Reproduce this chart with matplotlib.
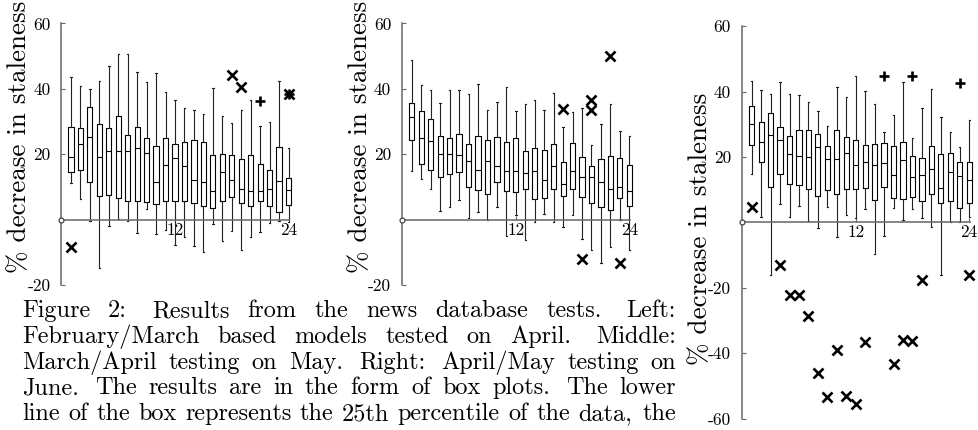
import matplotlib
matplotlib.use("Agg")
import matplotlib.pyplot as plt

plt.rcParams["font.family"] = ["cmr10", "DejaVu Serif"]
plt.rcParams["axes.unicode_minus"] = False

W, H = 979, 430

# Left: February/March based models tested on April
left_hi = [43.6, 40.8, 39.9, 42.4, 46.9, 50.7, 50.7, 45.2, 42.1, 44.8, 39.0, 36.5,
           34.1, 33.4, 32.3, 40.2, 31.6, 29.6, 33.5, 36.5, 28.7, 29.8, 42.3, 21.9]
left_q3 = [28.2, 28.0, 34.4, 29.2, 28.0, 31.6, 25.8, 28.4, 24.9, 22.4, 24.9, 23.1,
           23.9, 24.3, 23.7, 19.7, 20.1, 19.7, 18.5, 19.9, 17.1, 15.1, 22.3, 12.7]
left_med = [19.2, 23.1, 25.2, 19.3, 21.0, 21.0, 21.0, 21.8, 20.3, 11.6, 16.7, 18.8,
            16.5, 12.0, 11.6, 8.9, 14.5, 12.0, 9.5, 8.9, 8.9, 9.4, 11.8, 9.1]
left_q1 = [14.6, 15.1, 11.6, 7.2, 7.6, 6.5, 5.8, 5.6, 5.3, 4.8, 5.6, 5.8,
           5.8, 5.2, 4.1, 3.5, 5.8, 7.0, 5.1, 4.2, 5.6, 4.2, 2.3, 4.5]
left_lo = [11.3, 6.3, -0.5, -14.9, -1.9, 0.3, -0.3, -4.2, 3.2, -4.4, -3.0, -7.6,
           -5.4, -8.0, -10.0, -1.3, -6.4, -3.6, -9.3, -5.4, -3.8, -1.0, -0.4, -0.7]
left_x_pos = [1, 18, 19, 24]
left_x_val = [-8.3, 44.3, 40.5, 38.3]
left_plus_pos = [21, 24]
left_plus_val = [36.2, 38.3]

# Middle: March/April testing on May
mid_hi = [48.8, 41.2, 39.6, 35.6, 39.8, 39.8, 38.4, 41.4, 33.5, 35.9, 40.5, 33.2,
          35.3, 36.6, 33.5, 38.6, 28.3, 33.0, 34.1, 22.7, 29.4, 35.3, 27.2, 25.5]
mid_q3 = [35.8, 33.1, 30.7, 25.7, 24.9, 26.1, 23.0, 25.5, 24.5, 25.3, 23.9, 25.0,
          21.1, 21.9, 21.2, 23.1, 17.6, 23.4, 19.3, 16.3, 18.5, 19.5, 18.9, 16.8]
mid_med = [31.4, 25.1, 24.1, 20.0, 20.0, 19.8, 17.9, 15.3, 18.1, 16.3, 14.8, 14.9,
           14.4, 15.0, 12.0, 16.3, 10.9, 14.8, 13.1, 13.1, 11.4, 9.3, 9.9, 8.9]
mid_q1 = [24.3, 17.1, 15.1, 13.1, 14.1, 14.5, 10.1, 9.1, 7.9, 11.6, 8.9, 8.5,
          9.5, 6.3, 6.5, 9.3, 7.3, 9.3, 6.8, 5.1, 3.8, 3.1, 6.5, 4.1]
mid_lo = [14.8, 12.3, 9.4, 2.7, 3.9, 6.0, 0.6, 2.3, 0.0, 3.9, -4.9, 1.4,
          -6.3, -0.7, 1.6, -0.7, -2.3, 1.4, -5.9, -9.4, -13.2, -8.4, -0.1, -9.4]
mid_x_pos = [17, 20, 20, 22, 19, 23]
mid_x_val = [33.9, 36.6, 33.6, 50.1, -11.9, -13.2]
mid_plus_pos = []
mid_plus_val = []

# Right: April/May testing on June
right_hi = [43.1, 40.4, 39.3, 42.8, 39.3, 38.9, 36.9, 34.0, 29.6, 41.4, 38.2, 44.8,
            40.1, 36.3, 27.5, 32.8, 43.0, 25.7, 35.1, 40.8, 32.3, 27.7, 22.9, 31.4]
right_q3 = [35.5, 30.7, 33.5, 29.1, 26.3, 28.3, 28.2, 27.0, 23.4, 28.2, 26.1, 25.3,
            23.5, 24.0, 24.4, 23.2, 24.7, 20.2, 19.6, 23.2, 21.0, 21.3, 18.5, 18.3]
right_med = [30.2, 24.5, 26.7, 25.2, 21.0, 20.4, 19.9, 23.0, 19.5, 19.5, 21.2, 17.6,
             18.3, 17.4, 18.0, 14.6, 18.9, 13.8, 14.4, 16.3, 10.5, 15.5, 14.1, 12.9]
right_q1 = [23.5, 18.3, 10.7, 14.8, 11.7, 11.3, 10.1, 8.1, 9.8, 8.7, 10.1, 10.1,
            10.4, 6.9, 10.8, 7.4, 7.0, 7.6, 6.6, 8.6, 5.8, 6.6, 4.3, 5.8]
right_lo = [14.9, 1.5, -16.1, 5.6, 1.7, 5.1, 0.5, -1.6, 4.8, -4.5, 2.2, 1.4,
            4.2, -9.6, -4.2, 4.3, 0.6, 4.0, 1.4, -1.5, -16.1, 0.2, 0.0, 1.5]
right_x_pos = [1, 4, 5, 6, 7, 8, 9, 10, 11, 12, 13, 16, 17, 18, 19, 24]
right_x_val = [4.7, -13.2, -22.3, -22.3, -28.7, -46.2, -53.5, -39.2, -53.2, -55.7,
               -36.6, -43.2, -36.0, -36.2, -17.7, -16.0]
right_plus_pos = [15, 18, 23]
right_plus_val = [44.7, 44.7, 42.7]

xticks = [12, 24]
ylabel = "% decrease in staleness"

caption_lines = [
    "Figure 2: Results from the news database tests. Left:",
    "February/March based models tested on April. Middle:",
    "March/April testing on May. Right: April/May testing on",
    "June. The results are in the form of box plots. The lower",
    "line of the box represents the 25th percentile of the data, the",
]

AXIS_GRAY = "#666666"
SX, SY = 9.46, 3.27


def draw_panel(x0, y0, hi, q3, med, q1, lo, xp, xv, pp, pv, ylo, yticks, label_y):
    xlim = (-2, 26)
    ylim = (ylo - 4, 64)
    rect = [(x0 + xlim[0] * SX) / W,
            (H - (y0 - ylim[0] * SY)) / H,
            (xlim[1] - xlim[0]) * SX / W,
            (ylim[1] - ylim[0]) * SY / H]
    ax = fig.add_axes(rect)
    ax.set_xlim(*xlim)
    ax.set_ylim(*ylim)
    ax.patch.set_visible(False)

    stats = [dict(med=m, q1=a, q3=b, whislo=l, whishi=h, fliers=[])
             for m, a, b, l, h in zip(med, q1, q3, lo, hi)]
    ax.bxp(stats, positions=range(1, len(stats) + 1), widths=0.55,
           capwidths=0.15, manage_ticks=False,
           boxprops=dict(color="black", lw=0.8),
           medianprops=dict(color="black", lw=0.8),
           whiskerprops=dict(color="#222222", lw=0.8),
           capprops=dict(color="#222222", lw=0.8))

    ax.plot(xp, xv, "x", color="black", ms=7.5, mew=1.9, zorder=5)
    if pp:
        ax.plot(pp, pv, "+", color="black", ms=6.5, mew=1.9, zorder=5)

    for side in ("top", "right"):
        ax.spines[side].set_visible(False)
    ax.spines["left"].set_position(("data", 0))
    ax.spines["bottom"].set_position(("data", 0))
    ax.spines["left"].set_bounds(ylo, 60)
    ax.spines["bottom"].set_bounds(0, 24.1)
    for side in ("left", "bottom"):
        ax.spines[side].set_color(AXIS_GRAY)
        ax.spines[side].set_linewidth(1.1)
    ax.plot([0], [0], "o", ms=3.5, mfc="white", mec="#444444", mew=0.9,
            zorder=6, clip_on=False)

    ax.set_xticks(xticks)
    ax.set_xticklabels([str(t) for t in xticks])
    ax.set_yticks(yticks)
    ax.set_yticklabels([str(t) for t in yticks])
    ax.tick_params(axis="both", direction="in", length=3, width=0.8,
                   color=AXIS_GRAY, labelsize=12.5)
    ax.tick_params(axis="y", pad=8)
    ax.tick_params(axis="x", pad=2)

    fig.text((x0 - 42) / W, 1 - label_y / H, ylabel, rotation=90,
             ha="center", va="center", fontsize=19.5)
    return ax


fig = plt.figure(figsize=(W / 100, H / 100), dpi=100)

draw_panel(61.5, 219.7, left_hi, left_q3, left_med, left_q1, left_lo,
           left_x_pos, left_x_val, left_plus_pos, left_plus_val,
           -20, [-20, 20, 40, 60], 137)
draw_panel(402.3, 219.7, mid_hi, mid_q3, mid_med, mid_q1, mid_lo,
           mid_x_pos, mid_x_val, mid_plus_pos, mid_plus_val,
           -20, [-20, 20, 40, 60], 137)
draw_panel(742.2, 222.3, right_hi, right_q3, right_med, right_q1, right_lo,
           right_x_pos, right_x_val, right_plus_pos, right_plus_val,
           -60, [-60, -40, -20, 20, 40, 60], 229)

# justified caption, word by word
cap_left, cap_right = 22, 676
cap_base, cap_step = 317, 25.8
fig.canvas.draw()
r = fig.canvas.get_renderer()
for i, line in enumerate(caption_lines):
    words = line.split()
    y = 1 - (cap_base + i * cap_step) / H
    texts = [fig.text(0, y, w, fontsize=17.5, va="baseline", ha="left") for w in words]
    widths = [t.get_window_extent(r).width for t in texts]
    weights = []
    for w in words[:-1]:
        if w[-1] in ".:":
            weights.append(1.4)
        elif w[-1] == ",":
            weights.append(1.15)
        else:
            weights.append(1.0)
    gap = (cap_right - cap_left - sum(widths)) / sum(weights)
    x = cap_left
    for t, wd, wt in zip(texts, widths, weights + [0]):
        t.set_x(x / W)
        x += wd + gap * wt

fig.savefig("out.png", dpi=100)
